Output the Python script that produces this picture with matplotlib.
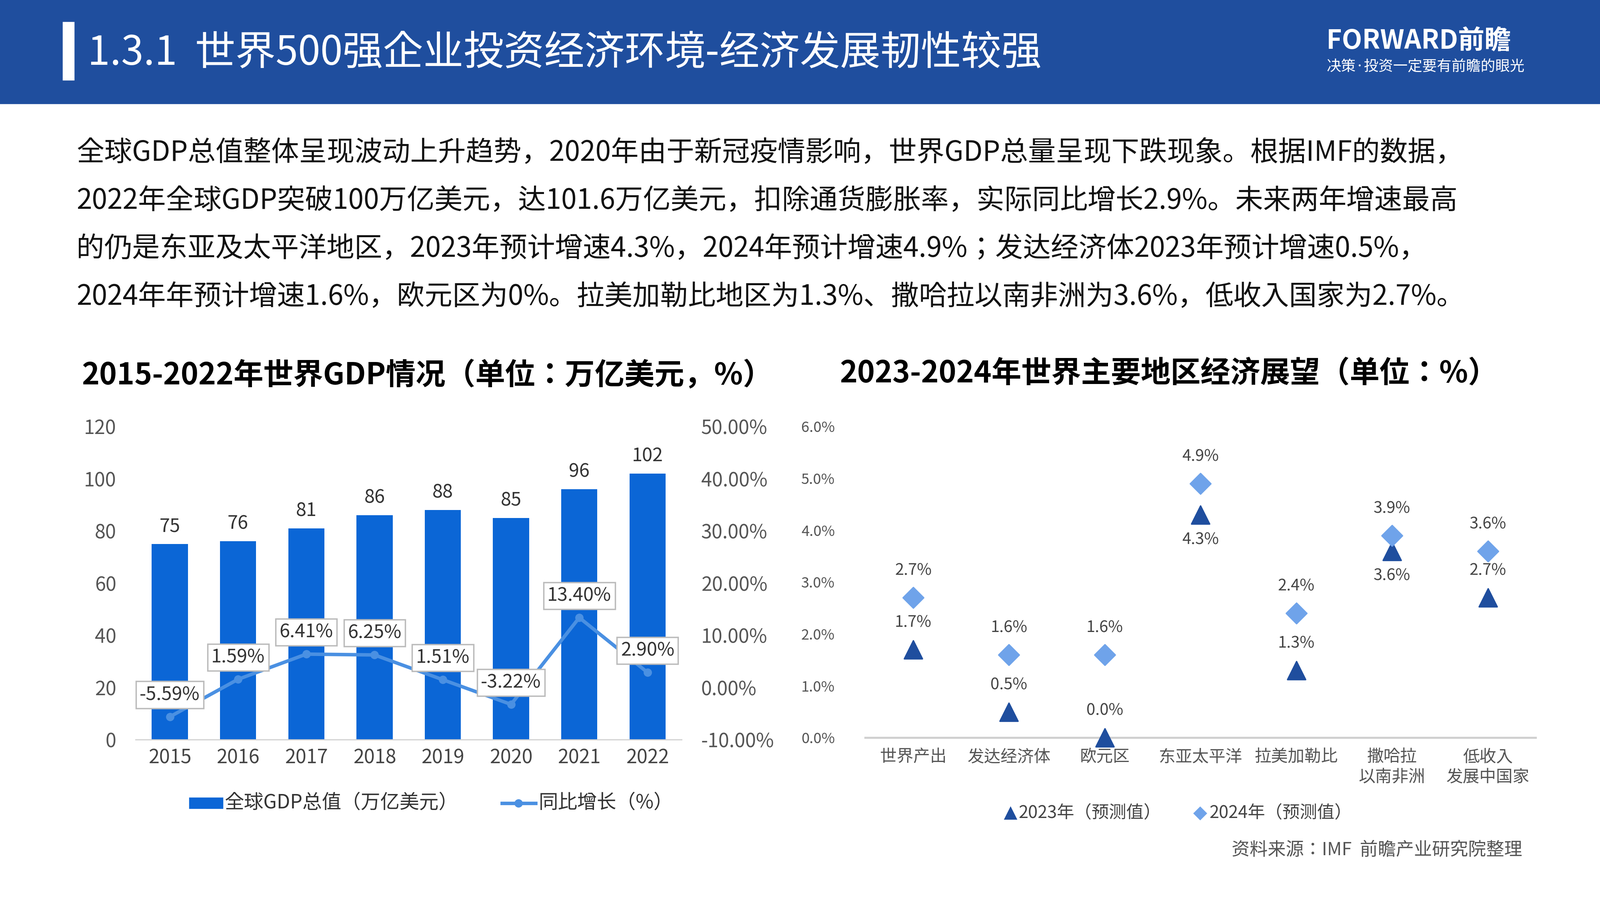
import matplotlib
matplotlib.use("Agg")
import matplotlib.pyplot as plt
from matplotlib.patches import Rectangle
from matplotlib.lines import Line2D

plt.rcParams["font.family"] = ["Noto Sans CJK SC", "Noto Sans CJK JP", "Noto Sans CJK TC", "DejaVu Sans"]

years = ["2015", "2016", "2017", "2018", "2019", "2020", "2021", "2022"]
gdp = [75, 76, 81, 86, 88, 85, 96, 102]
growth = [-5.59, 1.59, 6.41, 6.25, 1.51, -3.22, 13.40, 2.90]

regions = ["世界产出", "发达经济体", "欧元区", "东亚太平洋", "拉美加勒比", "撒哈拉\n以南非洲", "低收入\n发展中国家"]
f2023 = [1.7, 0.5, 0.0, 4.3, 1.3, 3.6, 2.7]
f2024 = [2.7, 1.6, 1.6, 4.9, 2.4, 3.9, 3.6]
below2023 = [False, False, False, True, False, True, False]

W, H = 1568, 882
fig = plt.figure(figsize=(16, 9), dpi=250)

def fx(x): return x / W
def fy(y): return 1 - y / H

# header
fig.patches.append(Rectangle((0, fy(101)), 1, 101 / H, transform=fig.transFigure, color="#1F4E9E", zorder=0))
fig.patches.append(Rectangle((fx(62), fy(78)), 10 / W, 56 / H, transform=fig.transFigure, color="white", zorder=1))
fig.text(fx(86), fy(52), "1.3.1  世界500强企业投资经济环境-经济发展韧性较强", color="white",
         fontsize=29, va="center", ha="left")
fig.text(fx(1300), fy(40), "FORWARD前瞻", color="white", fontsize=19, fontweight="bold", va="center")
fig.text(fx(1300), fy(65), "决策·投资一定要有前瞻的眼光", color="white", fontsize=10.5, va="center")

para = ["全球GDP总值整体呈现波动上升趋势，2020年由于新冠疫情影响，世界GDP总量呈现下跌现象。根据IMF的数据，",
        "2022年全球GDP突破100万亿美元，达101.6万亿美元，扣除通货膨胀率，实际同比增长2.9%。未来两年增速最高",
        "的仍是东亚及太平洋地区，2023年预计增速4.3%，2024年预计增速4.9%；发达经济体2023年预计增速0.5%，",
        "2024年年预计增速1.6%，欧元区为0%。拉美加勒比地区为1.3%、撒哈拉以南非洲为3.6%，低收入国家为2.7%。"]
for i, line in enumerate(para):
    fig.text(fx(75), fy(150 + i * 47), line, fontsize=20, va="center", color="#111111")

fig.text(fx(80), fy(368), "2015-2022年世界GDP情况（单位：万亿美元，%）", fontsize=21.5, fontweight="bold", va="center")
fig.text(fx(823), fy(366), "2023-2024年世界主要地区经济展望（单位：%）", fontsize=21.5, fontweight="bold", va="center")

# left chart
ax = fig.add_axes([fx(133), fy(725), (668 - 133) / W, (725 - 418) / H])
x = list(range(len(years)))
ax.bar(x, gdp, width=0.53, color="#0B66D6", zorder=2)
for xi, v in zip(x, gdp):
    ax.text(xi, v + 3, str(v), ha="center", va="bottom", fontsize=13.5, color="#333333")
ax.set_ylim(0, 120)
ax.set_yticks(range(0, 121, 20))
ax.set_xlim(-0.5, 7.5)
ax.set_xticks(x)
ax.set_xticklabels(years, fontsize=14, color="#444444")
ax.tick_params(axis="y", labelsize=14, colors="#555555", length=0, pad=14)
ax.tick_params(axis="x", length=0, pad=6)
for s in ["top", "right", "left"]:
    ax.spines[s].set_visible(False)
ax.spines["bottom"].set_color("#D0D0D0")

ax2 = ax.twinx()
ax2.plot(x, growth, color="#4A90E2", lw=2.5, marker="o", ms=5, zorder=3)
ax2.set_ylim(-10, 50)
ax2.set_yticks(range(-10, 51, 10))
ax2.set_yticklabels([f"{v:.2f}%" for v in range(-10, 51, 10)])
ax2.tick_params(axis="y", labelsize=14, colors="#555555", length=0, pad=14)
for s in ax2.spines.values():
    s.set_visible(False)
for xi, v in zip(x, growth):
    ax2.text(xi, v + 4.2, f"{v:.2f}%", ha="center", va="center", fontsize=13.5, color="#333333",
             bbox=dict(boxstyle="square,pad=0.2", fc="white", ec="#BBBBBB", lw=1))

fig.patches.append(Rectangle((fx(186), fy(792)), 32 / W, 10 / H, transform=fig.transFigure, color="#0B66D6"))
fig.text(fx(220), fy(787), "全球GDP总值（万亿美元）", fontsize=14, va="center", color="#333333")
fig.lines.append(Line2D([fx(492), fx(525)], [fy(787), fy(787)], transform=fig.transFigure, color="#4A90E2", lw=2.5))
fig.lines.append(Line2D([fx(508)], [fy(787)], transform=fig.transFigure, color="#4A90E2", marker="o", ms=5))
fig.text(fx(528), fy(787), "同比增长（%）", fontsize=14, va="center", color="#333333")

# right chart
bx = fig.add_axes([fx(848), fy(723), (1505 - 848) / W, (723 - 418) / H])
r = list(range(len(regions)))
bx.scatter(r, f2023, marker="^", s=170, color="#1F4E9E", zorder=3, clip_on=False)
bx.scatter(r, f2024, marker="D", s=110, color="#6FA3EA", zorder=3, clip_on=False)
for ri, v, b in zip(r, f2023, below2023):
    off = -0.48 if b else 0.52
    bx.text(ri, v + off, f"{v:.1f}%", ha="center", va="center", fontsize=11.5, color="#444444")
for ri, v in zip(r, f2024):
    bx.text(ri, v + 0.52, f"{v:.1f}%", ha="center", va="center", fontsize=11.5, color="#444444")
bx.set_ylim(0, 6)
bx.set_yticks(range(0, 7))
bx.set_yticklabels([f"{v:.1f}%" for v in range(0, 7)])
bx.set_xlim(-0.5, 6.5)
bx.set_xticks(r)
bx.set_xticklabels(regions, fontsize=12, color="#555555", linespacing=1.3, va="top")
bx.tick_params(axis="y", labelsize=10.5, colors="#555555", length=0, pad=22)
bx.tick_params(axis="x", length=0, pad=8)
for s in ["top", "right", "left"]:
    bx.spines[s].set_visible(False)
bx.spines["bottom"].set_color("#D0D0D0")
bx.spines["bottom"].set_linewidth(1.5)

fig.lines.append(Line2D([fx(990)], [fy(797)], transform=fig.transFigure, color="#1F4E9E", marker="^", ms=8, ls=""))
fig.text(fx(998), fy(797), "2023年（预测值）", fontsize=12.5, va="center", color="#444444")
fig.lines.append(Line2D([fx(1176)], [fy(797)], transform=fig.transFigure, color="#6FA3EA", marker="D", ms=6, ls=""))
fig.text(fx(1185), fy(797), "2024年（预测值）", fontsize=12.5, va="center", color="#444444")

fig.text(fx(1492), fy(833), "资料来源：IMF  前瞻产业研究院整理", fontsize=13, ha="right", va="center", color="#555555")

fig.savefig("out.png", dpi=250, facecolor="white")
